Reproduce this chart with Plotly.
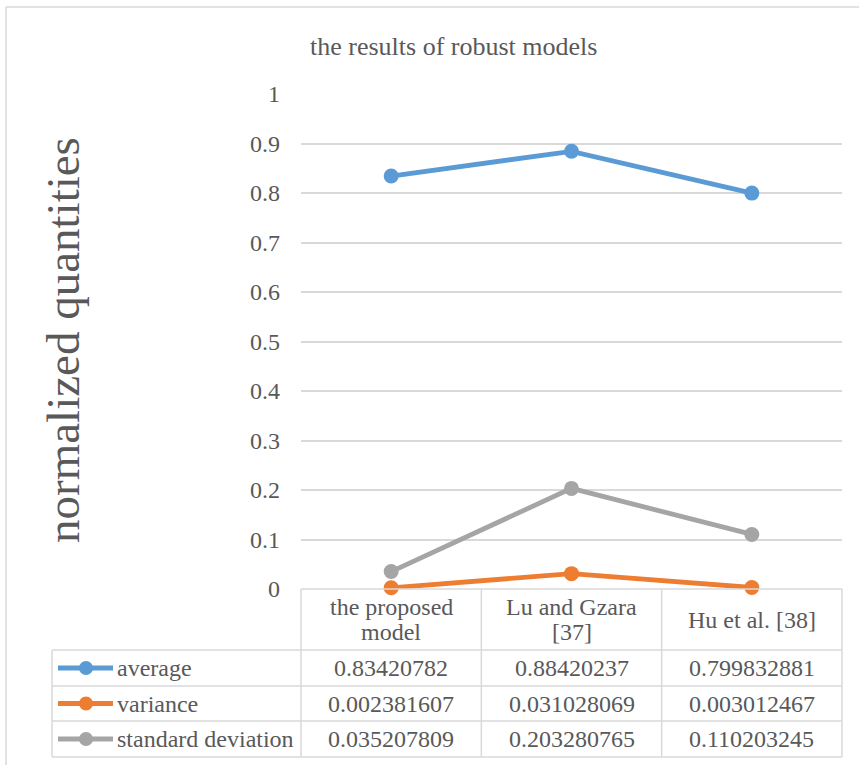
import plotly.graph_objects as go

# ---- data ----
categories = ["the proposed model", "Lu and Gzara [37]", "Hu et al. [38]"]
category_labels = [["the proposed", "model"], ["Lu and Gzara", "[37]"], ["Hu et al. [38]"]]
series_names = ["average", "variance", "standard deviation"]
average = [0.83420782, 0.88420237, 0.799832881]
variance = [0.002381607, 0.031028069, 0.003012467]
std_dev = [0.035207809, 0.203280765, 0.110203245]
y_ticks = [0, 0.1, 0.2, 0.3, 0.4, 0.5, 0.6, 0.7, 0.8, 0.9, 1]
y_tick_labels = ["0", "0.1", "0.2", "0.3", "0.4", "0.5", "0.6", "0.7", "0.8", "0.9", "1"]
series_values = [average, variance, std_dev]
series_text = [
    ["0.83420782", "0.88420237", "0.799832881"],
    ["0.002381607", "0.031028069", "0.003012467"],
    ["0.035207809", "0.203280765", "0.110203245"],
]
colors = ["#5b9bd5", "#ed7d31", "#a5a5a5"]

W, H = 859, 765
FONT = "Liberation Serif, Times New Roman, serif"
TXT = "#595959"
GRID = "#d9d9d9"


def px(x):
    return x / W


def py(y):
    return 1 - y / H


# plot area geometry (pixels)
X0, X1 = 301, 842
Y_TOP, Y_ZERO = 94, 589
col_edges = [X0 + (X1 - X0) * i / len(categories) for i in range(len(categories) + 1)]
col_centers = [(col_edges[i] + col_edges[i + 1]) / 2 for i in range(len(categories))]
LEG_X = 52
row_edges = [589, 650, 686, 721, 757]

fig = go.Figure()
for name, vals, c in zip(series_names, series_values, colors):
    fig.add_trace(go.Scatter(
        x=list(range(len(categories))), y=vals, name=name,
        mode="lines+markers",
        line=dict(color=c, width=4.8),
        marker=dict(color=c, size=15),
        cliponaxis=False, showlegend=False,
    ))

shapes = []
line_style = dict(color=GRID, width=1.5)
# chart outer border (left/top visible)
shapes.append(dict(type="line", xref="paper", yref="paper", x0=px(6), x1=px(870), y0=py(7), y1=py(7), line=line_style))
shapes.append(dict(type="line", xref="paper", yref="paper", x0=px(6), x1=px(6), y0=py(7), y1=py(780), line=line_style))
# table horizontal lines
shapes.append(dict(type="line", xref="paper", yref="paper", x0=px(X0), x1=px(X1), y0=py(row_edges[0]), y1=py(row_edges[0]), line=line_style))
for ry in row_edges[1:]:
    shapes.append(dict(type="line", xref="paper", yref="paper", x0=px(LEG_X), x1=px(X1), y0=py(ry), y1=py(ry), line=line_style))
# table vertical lines
for cx in col_edges:
    shapes.append(dict(type="line", xref="paper", yref="paper", x0=px(cx), x1=px(cx), y0=py(row_edges[0]), y1=py(row_edges[-1]), line=line_style))
shapes.append(dict(type="line", xref="paper", yref="paper", x0=px(LEG_X), x1=px(LEG_X), y0=py(row_edges[1]), y1=py(row_edges[-1]), line=line_style))

annotations = []
TFS = 24
# header labels
hdr_c = (row_edges[0] + row_edges[1]) / 2
for cx, lines in zip(col_centers, category_labels):
    n = len(lines)
    for k, ln in enumerate(lines):
        ly = hdr_c + (k - (n - 1) / 2) * 25
        annotations.append(dict(xref="paper", yref="paper", x=px(cx), y=py(ly),
                                text=ln, showarrow=False, xanchor="center", yanchor="middle",
                                font=dict(family=FONT, size=TFS, color=TXT)))
# rows
for i, (name, c, texts) in enumerate(zip(series_names, colors, series_text)):
    cy = (row_edges[i + 1] + row_edges[i + 2]) / 2
    shapes.append(dict(type="line", xref="paper", yref="paper", x0=px(58), x1=px(113), y0=py(cy), y1=py(cy),
                       line=dict(color=c, width=4.8)))
    shapes.append(dict(type="circle", xref="paper", yref="paper", x0=px(86 - 7), x1=px(86 + 7),
                       y0=py(cy - 7), y1=py(cy + 7), fillcolor=c, line=dict(color=c, width=0)))
    annotations.append(dict(xref="paper", yref="paper", x=px(115), y=py(cy), text=name, showarrow=False,
                            xanchor="left", yanchor="middle", font=dict(family=FONT, size=TFS, color=TXT)))
    for cx, t in zip(col_centers, texts):
        annotations.append(dict(xref="paper", yref="paper", x=px(cx), y=py(cy), text=t, showarrow=False,
                                xanchor="center", yanchor="middle", font=dict(family=FONT, size=TFS, color=TXT)))
# title
annotations.append(dict(xref="paper", yref="paper", x=px(453), y=py(46), text="the results of robust models",
                        showarrow=False, xanchor="center", yanchor="middle",
                        font=dict(family=FONT, size=26, color=TXT)))
# y axis title
annotations.append(dict(xref="paper", yref="paper", x=px(63), y=py(340), text="normalized quantities",
                        showarrow=False, xanchor="center", yanchor="middle", textangle=-90,
                        font=dict(family=FONT, size=47, color=TXT)))

fig.update_layout(
    width=W, height=H, margin=dict(l=0, r=0, t=0, b=0, pad=0, autoexpand=False),
    paper_bgcolor="white", plot_bgcolor="white", showlegend=False,
    xaxis=dict(domain=[px(X0), px(X1)], range=[-0.5, len(categories) - 0.5], showticklabels=False,
               showgrid=False, zeroline=False, showline=False, fixedrange=True, automargin=False),
    yaxis=dict(domain=[py(Y_ZERO), py(Y_TOP)], range=[0, 1], tickvals=y_ticks, ticktext=y_tick_labels,
               showgrid=True, gridcolor=GRID, gridwidth=1.5, zeroline=False, showline=False,
               ticks="", ticklabelstandoff=20, automargin=False,
               tickfont=dict(family=FONT, size=24, color=TXT)),
    shapes=shapes, annotations=annotations,
)

fig.write_html("out.html")
